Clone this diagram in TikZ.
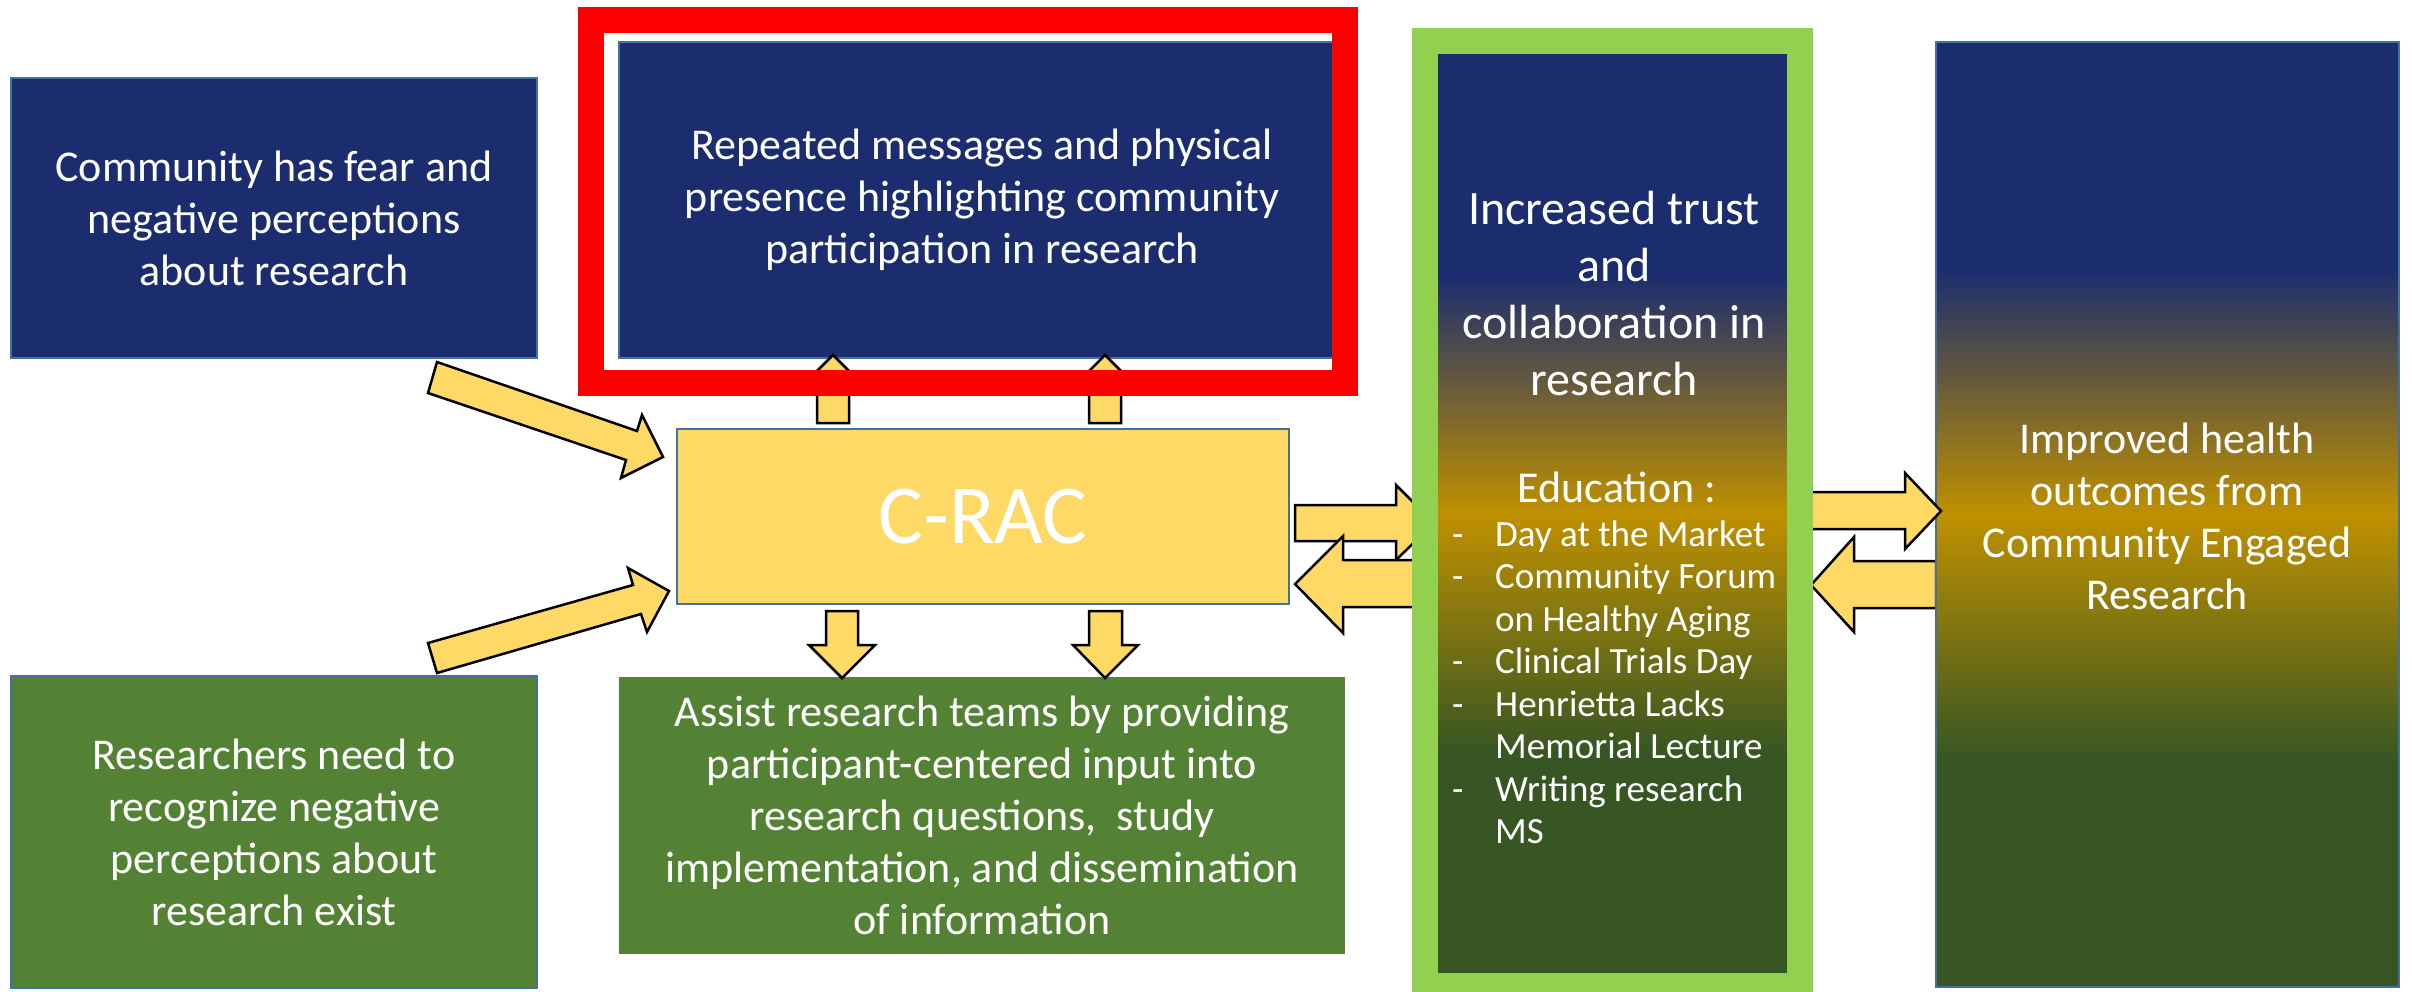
\documentclass[tikz,border=0pt]{standalone}
\usepackage{fontspec}
\setmainfont{Carlito}
\definecolor{navy}{HTML}{1B2D6F}
\definecolor{mgreen}{HTML}{548235}
\definecolor{dgreen}{HTML}{375623}
\definecolor{goldc}{HTML}{BF9000}
\definecolor{yarr}{HTML}{FFD966}
\definecolor{bord}{HTML}{41719C}
\definecolor{lgreen}{HTML}{92D050}
\definecolor{redf}{HTML}{FF0000}
\pgfdeclareverticalshading{bgg}{100bp}{color(0bp)=(dgreen); color(37bp)=(dgreen); color(50bp)=(goldc); color(63bp)=(navy); color(100bp)=(navy)}
\begin{document}
\begin{tikzpicture}[x=1pt,y=-1pt,
  box/.style={rectangle, inner sep=0pt, text=white, align=center},
  bordered/.style={draw=bord, line width=2.5pt},
  txt/.style={font=\fontsize{44}{52}\selectfont},
  yarrow/.style={fill=yarr, draw=black, line width=2.5pt, line join=miter}
]
\fill[white] (0,0) rectangle (2412,991);
\useasboundingbox (0,0) rectangle (2412,991);

% boxes
\node[box, bordered, fill=navy, txt, minimum width=526pt, minimum height=280pt] (fear) at (274,218)
  {Community has fear and\\negative perceptions\\about research};
\node[box, bordered, fill=navy, txt, minimum width=726pt, minimum height=316pt] (msg) at (982,200)
  {Repeated messages and physical\\presence highlighting community\\participation in research};
\node[box, bordered, fill=yarr, minimum width=612pt, minimum height=175pt,
  font=\fontsize{84}{90}\selectfont] (crac) at (983,516.5) {C-RAC};
\node[box, bordered, fill=mgreen, txt, minimum width=526pt, minimum height=312pt] (res) at (274,832)
  {Researchers need to\\recognize negative\\perceptions about\\research exist};
\node[box, fill=mgreen, txt, minimum width=726pt, minimum height=277pt] (assist) at (982,815.5)
  {Assist research teams by providing\\participant-centered input into\\research questions,\ \ study\\implementation, and dissemination\\of information};

% diagonal arrows
\draw[yarrow] (437,362) -- (637,431) -- (642,415) -- (663,457) -- (621,478) -- (626,460) -- (428,393) -- cycle;
\draw[yarrow] (428,643) -- (633,585) -- (628,568) -- (669,591) -- (647,632) -- (641,614) -- (437,673) -- cycle;

% up arrows
\draw[yarrow] (817,423) -- (817,380) -- (808,380) -- (833,355) -- (858,380) -- (849,380) -- (849,423) -- cycle;
\draw[yarrow] (1089,423) -- (1089,380) -- (1080,380) -- (1105,355) -- (1130,380) -- (1121,380) -- (1121,423) -- cycle;

% down arrows
\draw[yarrow] (826,611) -- (858,611) -- (858,645) -- (875,645) -- (842,678) -- (809,645) -- (826,645) -- cycle;
\draw[yarrow] (1089,611) -- (1122,611) -- (1122,645) -- (1138,645) -- (1105,678) -- (1073,645) -- (1089,645) -- cycle;

% arrows between C-RAC and trust box
\draw[yarrow] (1295,505) -- (1396,505) -- (1396,485) -- (1434,523) -- (1396,560) -- (1396,541) -- (1295,541) -- cycle;
\draw[yarrow] (1295,584) -- (1343,536) -- (1343,560) -- (1425,560) -- (1425,607) -- (1343,607) -- (1343,633) -- cycle;

% arrow from outcomes to trust box
\draw[yarrow] (1811,585) -- (1854,537) -- (1854,561) -- (1936,561) -- (1936,608) -- (1854,608) -- (1854,632) -- cycle;

% right box
\node[box, bordered, shade, shading=bgg, txt, minimum width=463pt, minimum height=945pt] (out) at (2167.5,514.5) {};
\node[box, txt] (outtxt) at (2167,516) {Improved health\\outcomes from\\Community Engaged\\Research};

% arrow from trust box to outcomes
\draw[yarrow] (1800,492) -- (1905,492) -- (1905,473) -- (1941,511) -- (1905,549) -- (1905,529) -- (1800,529) -- cycle;

% red frame
\draw[redf, line width=26pt, line join=miter] (591,20) rectangle (1345,383);

% trust box
\node[box, shade, shading=bgg, minimum width=349pt, minimum height=919pt] (trust) at (1612.5,513.5) {};
\draw[lgreen, line width=26pt, line join=miter] (1425,41) rectangle (1800,986);
\node[box, font=\fontsize{48}{57}\selectfont] (trusttitle) at (1614,294)
  {Increased trust\\and\\collaboration in\\research};
\node[box, font=\fontsize{44}{50}\selectfont] (edu) at (1617,487) {Education :};
\node[box, anchor=west, align=left, font=\fontsize{37}{42.5}\selectfont] (edulist) at (1452,682.5)
  {\makebox[43pt][l]{-}Day at the Market\\
   \makebox[43pt][l]{-}Community Forum\\
   \hspace*{43pt}on Healthy Aging\\
   \makebox[43pt][l]{-}Clinical Trials Day\\
   \makebox[43pt][l]{-}Henrietta Lacks\\
   \hspace*{43pt}Memorial Lecture\\
   \makebox[43pt][l]{-}Writing research\\
   \hspace*{43pt}MS};
\end{tikzpicture}
\end{document}
